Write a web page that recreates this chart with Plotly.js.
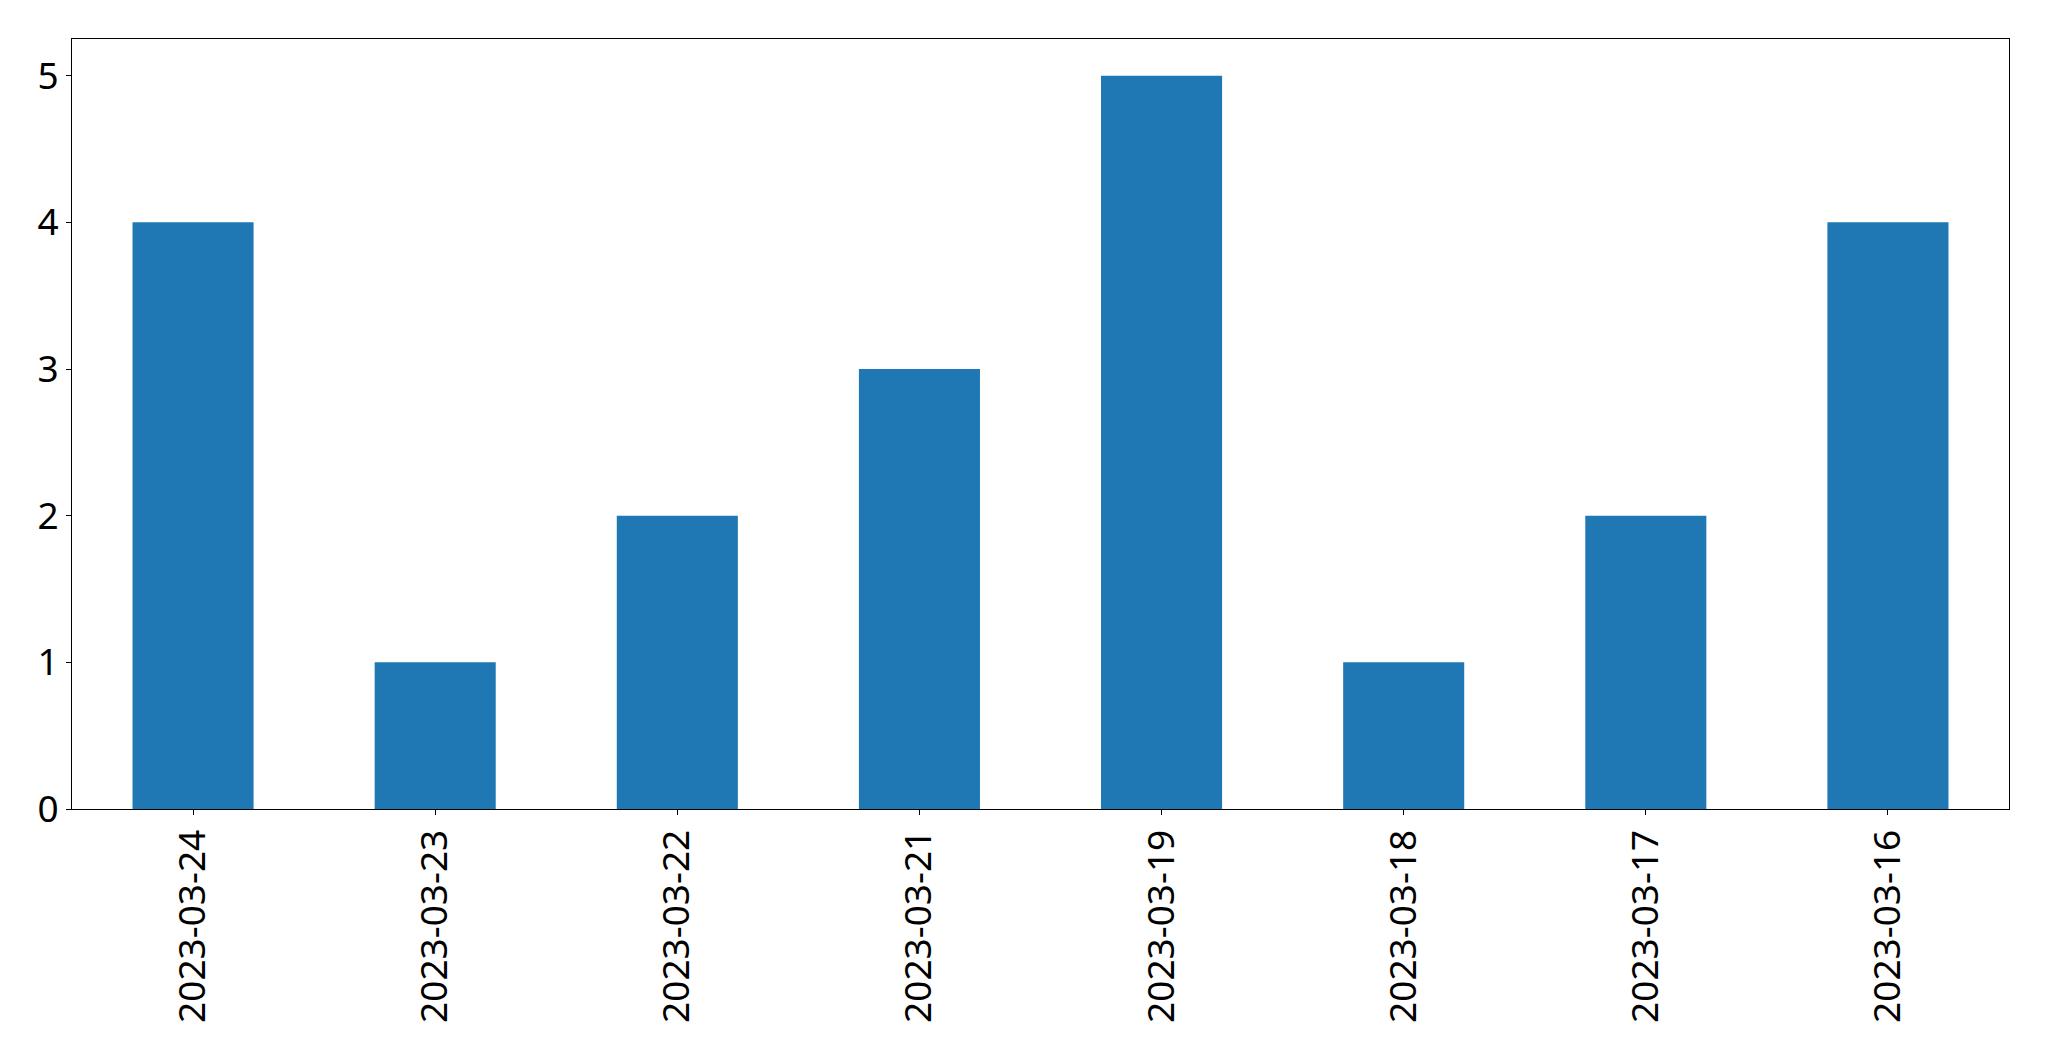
<!DOCTYPE html>
<html>
<head>
<meta charset="utf-8">
<script src="https://cdn.plot.ly/plotly-3.0.1.min.js"></script>
<style>html,body{margin:0;padding:0;background:#fff;}#chart{width:2049px;height:1061px;}</style>
</head>
<body>
<div id="chart"></div>
<script>
const dates = ["2023-03-24","2023-03-23","2023-03-22","2023-03-21","2023-03-19","2023-03-18","2023-03-17","2023-03-16"];
const counts = [4, 1, 2, 3, 5, 1, 2, 4];
const yTicks = [0, 1, 2, 3, 4, 5];

const trace = {
  type: "bar",
  x: dates,
  y: counts,
  width: 0.5,
  marker: {color: "#1f77b4", line: {width: 0}},
  hoverinfo: "x+y"
};

const tickFont = {family: "Noto Sans", size: 37, color: "#000"};

const layout = {
  width: 2049,
  height: 1061,
  margin: {l: 72, r: 40, t: 39, b: 252, pad: 0},
  paper_bgcolor: "#ffffff",
  plot_bgcolor: "#ffffff",
  showlegend: false,
  font: {family: "Noto Sans", size: 37, color: "#000000"},
  xaxis: {
    type: "category",
    range: [-0.5, 7.5],
    tickangle: -90,
    ticks: "outside",
    ticklen: 5,
    tickwidth: 1,
    tickcolor: "#000",
    showline: true,
    linecolor: "#000",
    linewidth: 1,
    mirror: true,
    showgrid: false,
    zeroline: false,
    tickfont: tickFont
  },
  yaxis: {
    range: [0, 5.25],
    tickvals: yTicks,
    ticktext: yTicks.map(String),
    ticks: "outside",
    ticklen: 5,
    tickwidth: 1,
    tickcolor: "#000",
    showline: true,
    linecolor: "#000",
    linewidth: 1,
    mirror: true,
    showgrid: false,
    zeroline: false,
    tickfont: tickFont
  }
};

Plotly.newPlot("chart", [trace], layout, {displayModeBar: false, staticPlot: true});
</script>
</body>
</html>
